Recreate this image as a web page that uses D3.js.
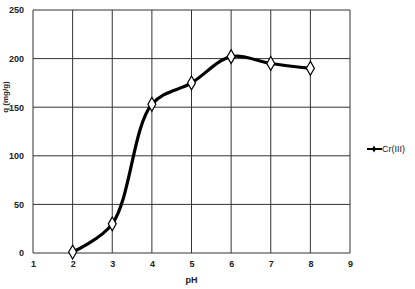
<!DOCTYPE html>
<html>
<head>
<meta charset="utf-8">
<script src="https://cdn.jsdelivr.net/npm/d3@7"></script>
<style>
  body { margin:0; background:#fff; }
  svg { display:block; }
  .tick text, .lbl { font-family:"Liberation Sans", Arial, sans-serif; font-weight:bold; fill:#222; }
</style>
</head>
<body>
<svg id="chart" width="415" height="289"></svg>
<script>
// data
var phValues = [2, 3, 4, 5, 6, 7, 8];
var qValues  = [1, 30, 153, 175, 202, 195, 190];
var xTicks = [1, 2, 3, 4, 5, 6, 7, 8, 9];
var yTicks = [0, 50, 100, 150, 200, 250];
var seriesName = "Cr(III)";

var screen = {width:415, height:289};
var margins = {top:10, bottom:36, left:33, right:65};
var graph = {
    width: screen.width - margins.left - margins.right,
    height: screen.height - margins.top - margins.bottom
};

var svg = d3.select("#chart");

var xScale = d3.scaleLinear().domain([1, 9]).range([0, graph.width]);
var yScale = d3.scaleLinear().domain([0, 250]).range([graph.height, 0]);

var g = svg.append("g")
    .attr("transform", "translate(" + margins.left + "," + margins.top + ")");

// grid
g.append("g")
    .selectAll("line")
    .data(xTicks)
    .enter()
    .append("line")
    .attr("x1", function(d){ return xScale(d); })
    .attr("x2", function(d){ return xScale(d); })
    .attr("y1", 0)
    .attr("y2", graph.height)
    .attr("stroke", "#333")
    .attr("stroke-width", 1);

g.append("g")
    .selectAll("line")
    .data(yTicks)
    .enter()
    .append("line")
    .attr("x1", 0)
    .attr("x2", graph.width)
    .attr("y1", function(d){ return yScale(d); })
    .attr("y2", function(d){ return yScale(d); })
    .attr("stroke", "#333")
    .attr("stroke-width", 1);

// axes (labels only)
var xAxis = g.append("g")
    .attr("transform", "translate(0," + graph.height + ")")
    .call(d3.axisBottom(xScale).tickValues(xTicks).tickSize(0).tickPadding(8).tickFormat(d3.format("d")));
xAxis.select(".domain").remove();
xAxis.selectAll("text").attr("font-size", 9);

var yAxis = g.append("g")
    .call(d3.axisLeft(yScale).tickValues(yTicks).tickSize(0).tickPadding(9).tickFormat(d3.format("d")));
yAxis.select(".domain").remove();
yAxis.selectAll("text").attr("font-size", 9);

// axis titles
svg.append("text")
    .classed("lbl", true)
    .attr("x", margins.left + xScale(5))
    .attr("y", 283)
    .attr("text-anchor", "middle")
    .attr("font-size", 9)
    .text("pH");

svg.append("text")
    .classed("lbl", true)
    .attr("transform", "translate(8,97) rotate(-90)")
    .attr("text-anchor", "middle")
    .attr("font-size", 8)
    .text("q  (mg/g)");

// series
var points = phValues.map(function(p, i){ return {ph:p, q:qValues[i]}; });

var line = d3.line()
    .x(function(d){ return xScale(d.ph); })
    .y(function(d){ return yScale(d.q); })
    .curve(d3.curveCatmullRom.alpha(0.5));

g.append("path")
    .datum(points)
    .attr("d", line)
    .attr("fill", "none")
    .attr("stroke", "#000")
    .attr("stroke-width", 3.2);

var diamond = d3.symbol().type(d3.symbolDiamond).size(55);

g.selectAll("path.mark")
    .data(points)
    .enter()
    .append("path")
    .attr("class", "mark")
    .attr("d", diamond)
    .attr("transform", function(d){ return "translate(" + xScale(d.ph) + "," + yScale(d.q) + ")"; })
    .attr("fill", "#fff")
    .attr("stroke", "#000")
    .attr("stroke-width", 1.2);

// legend
var legend = svg.append("g").attr("transform", "translate(367,149)");
legend.append("line")
    .attr("x1", 0).attr("x2", 15).attr("y1", 0).attr("y2", 0)
    .attr("stroke", "#000").attr("stroke-width", 2);
legend.append("path")
    .attr("d", d3.symbol().type(d3.symbolDiamond).size(14))
    .attr("transform", "translate(7,0)")
    .attr("fill", "#000");
legend.append("text")
    .attr("font-family", "'Liberation Sans', Arial, sans-serif")
    .attr("fill", "#222")
    .attr("x", 15)
    .attr("y", 3)
    .attr("font-size", 9)
    .text(seriesName);
</script>
</body>
</html>
